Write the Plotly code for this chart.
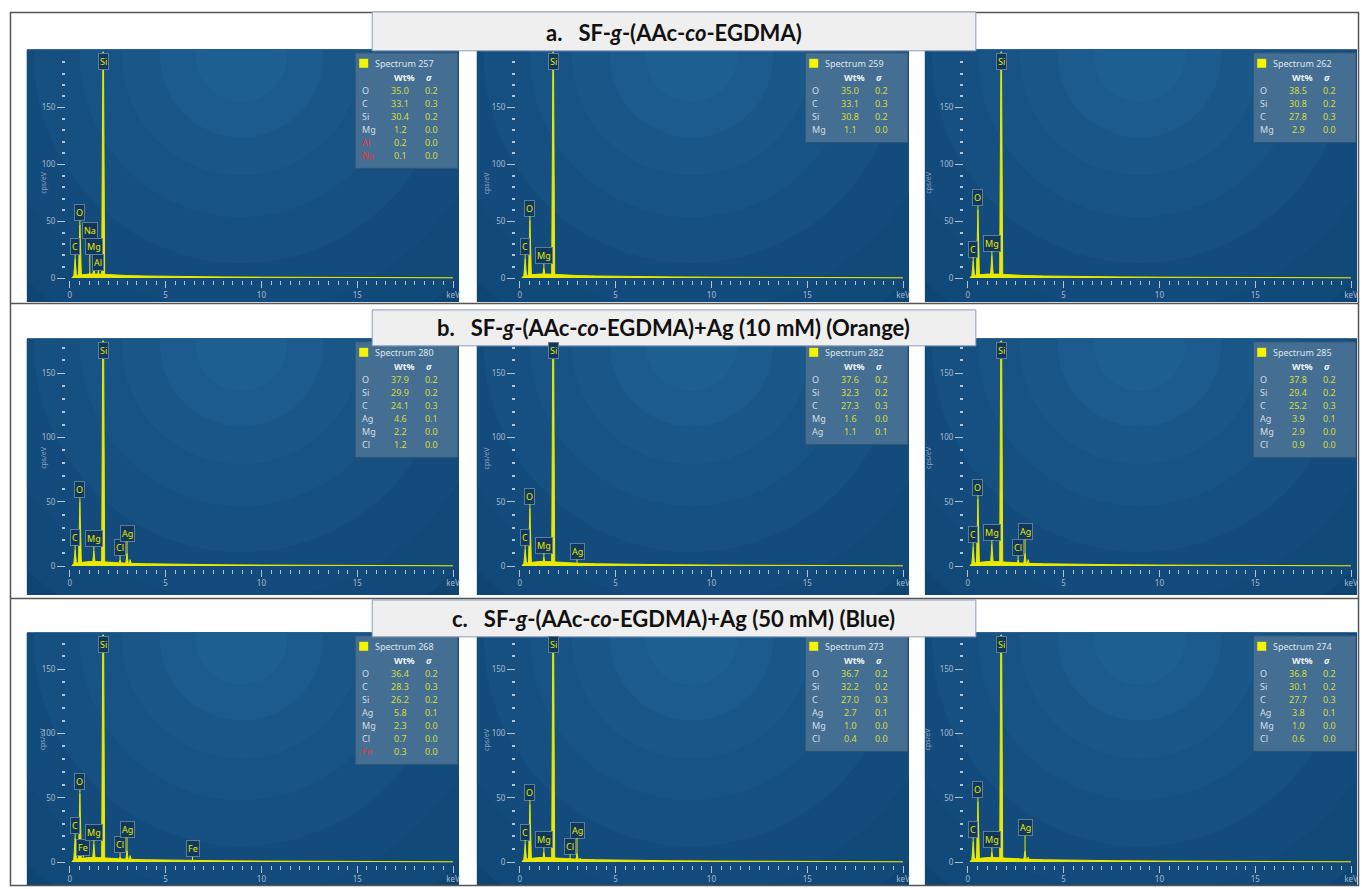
import numpy as np
import plotly.graph_objects as go

# ------------------------------------------------------------------ data
ROW_TITLES = [
    "<b>a.\u00a0\u00a0\u00a0SF-<i>g</i>-(AAc-<i>co</i>-EGDMA)</b>",
    "<b>b.\u00a0\u00a0\u00a0SF-<i>g</i>-(AAc-<i>co</i>-EGDMA)+Ag (10 mM) (Orange)</b>",
    "<b>c.\u00a0\u00a0\u00a0SF-<i>g</i>-(AAc-<i>co</i>-EGDMA)+Ag (50 mM) (Blue)</b>",
]

SPECTRUM_IDS = [257, 259, 262, 280, 282, 285, 268, 273, 274]

TABLE_ELEMENTS = [
    ["O", "C", "Si", "Mg", "Al", "Na"],
    ["O", "C", "Si", "Mg"],
    ["O", "Si", "C", "Mg"],
    ["O", "Si", "C", "Ag", "Mg", "Cl"],
    ["O", "Si", "C", "Mg", "Ag"],
    ["O", "Si", "C", "Ag", "Mg", "Cl"],
    ["O", "C", "Si", "Ag", "Mg", "Cl", "Fe"],
    ["O", "Si", "C", "Ag", "Mg", "Cl"],
    ["O", "Si", "C", "Ag", "Mg", "Cl"],
]
TABLE_WT = [
    [35.0, 33.1, 30.4, 1.2, 0.2, 0.1],
    [35.0, 33.1, 30.8, 1.1],
    [38.5, 30.8, 27.8, 2.9],
    [37.9, 29.9, 24.1, 4.6, 2.2, 1.2],
    [37.6, 32.3, 27.3, 1.6, 1.1],
    [37.8, 29.4, 25.2, 3.9, 2.9, 0.9],
    [36.4, 28.3, 26.2, 5.8, 2.3, 0.7, 0.3],
    [36.7, 32.2, 27.0, 2.7, 1.0, 0.4],
    [36.8, 30.1, 27.7, 3.8, 1.0, 0.6],
]
TABLE_SIGMA = [
    [0.2, 0.3, 0.2, 0.0, 0.0, 0.0],
    [0.2, 0.3, 0.2, 0.0],
    [0.2, 0.2, 0.3, 0.0],
    [0.2, 0.2, 0.3, 0.1, 0.0, 0.0],
    [0.2, 0.2, 0.3, 0.0, 0.1],
    [0.2, 0.2, 0.3, 0.1, 0.0, 0.0],
    [0.2, 0.3, 0.2, 0.1, 0.0, 0.0, 0.0],
    [0.2, 0.2, 0.3, 0.1, 0.0, 0.0],
    [0.2, 0.2, 0.3, 0.1, 0.0, 0.0],
]
FLAGGED = [["Al", "Na"], [], [], [], [], [], ["Fe"], [], []]

LINE_KEV = {"C": 0.277, "O": 0.525, "Fe L": 0.705, "Na": 1.041, "Mg": 1.254,
            "Al": 1.487, "Si": 1.740, "Cl": 2.622, "Ag": 2.984, "Ag Lb": 3.151,
            "Fe": 6.404}
PEAK_LINES = [
    ["C", "O", "Na", "Mg", "Al", "Si"],
    ["C", "O", "Mg", "Si"],
    ["C", "O", "Mg", "Si"],
    ["C", "O", "Mg", "Si", "Cl", "Ag", "Ag Lb"],
    ["C", "O", "Mg", "Si", "Ag", "Ag Lb"],
    ["C", "O", "Mg", "Si", "Cl", "Ag", "Ag Lb"],
    ["C", "O", "Fe L", "Mg", "Si", "Cl", "Ag", "Ag Lb", "Fe"],
    ["C", "O", "Mg", "Si", "Cl", "Ag", "Ag Lb"],
    ["C", "O", "Mg", "Si", "Cl", "Ag", "Ag Lb"],
]
PEAK_CPS = [
    [17, 47, 5, 9, 6, 240],
    [17, 51, 9, 240],
    [15, 60, 20, 240],
    [13, 50, 12, 240, 5, 10, 5],
    [13, 45, 7, 240, 2, 1],
    [15, 52, 17, 240, 5, 10, 5],
    [19, 53, 2, 14, 240, 4, 9, 5, 1],
    [14, 45, 8, 240, 3, 7, 3],
    [16, 47, 8, 240, 3, 9, 4],
]
PEAK_TAGS = [
    ["C", "O", "Na", "Mg", "Al", "Si"],
    ["C", "O", "Mg", "Si"],
    ["C", "O", "Mg", "Si"],
    ["C", "O", "Mg", "Si", "Cl", "Ag", ""],
    ["C", "O", "Mg", "Si", "Ag", ""],
    ["C", "O", "Mg", "Si", "Cl", "Ag", ""],
    ["C", "O", "Fe", "Mg", "Si", "Cl", "Ag", "", "Fe"],
    ["C", "O", "Mg", "Si", "Cl", "Ag", ""],
    ["C", "O", "Mg", "Si", "", "Ag", ""],
]
BG_KEV = [0.1, 0.2, 0.4, 0.7, 1.0, 1.5, 2.0, 2.5, 3.0, 4.0, 5.0, 6.0, 8.0,
          10.0, 12.0, 14.0, 16.0, 18.0, 20.0]
BG_CPS = [0.5, 1.5, 2.5, 3.0, 3.5, 3.5, 3.0, 2.5, 2.2, 1.8, 1.5, 1.2, 1.0,
          0.8, 0.6, 0.5, 0.4, 0.3, 0.2]

# ------------------------------------------------------------------ style / geometry
FIG_W, FIG_H = 1362, 889
PANEL_LEFT = [27, 478, 927]
PANEL_W = 433
ROWS = [dict(top=50, bottom=303, zero=279, k=1.14),
        dict(top=340, bottom=597, zero=568, k=1.29),
        dict(top=635, bottom=889, zero=865, k=1.29)]
TITLE_BOX = [(12, 51, 33), (311, 347, 329), (602, 639, 621)]
PPK = 19.2
X0_OFF = 43
XMIN, XMAX = -0.2, 20.2
YMIN = -2
PEAK_HW = 0.08
LABEL_LIFT = {(0, "Na"): 42, (0, "Mg"): 21, (0, "Al"): 9, (3, "Ag"): 20,
              (5, "Ag"): 22, (6, "Ag"): 21, (7, "Ag"): 23, (8, "Ag"): 23}
DEFAULT_LIFT = 12

YEL = "#e8e800"
BASE = "#0b3e6b"
C_OUT = np.array([11, 62, 107])
C_IN = np.array([30, 95, 146])
RING_R = [430, 370, 312, 258, 208, 162, 120, 82, 46]
RING_C = (215, 6)
TICK_COL = "#b2c3d4"
TICKFONT = dict(family="Noto Sans", size=8, color="#a7b9cb")
SMALL = "Noto Sans"


def px(x):
    return x / FIG_W


def py(y):
    return 1 - y / FIG_H


def aname(axis, n):
    return axis if n == 1 else f"{axis}{n}"


def aref(axis, n):
    return axis if n == 1 else f"{axis}{n}"


fig = go.Figure()
shapes, annotations, axes = [], [], {}

for p in range(9):
    r, c = divmod(p, 3)
    L = PANEL_LEFT[c]
    R = ROWS[r]
    top, bot, zero, k = R["top"], R["bottom"], R["zero"], R["k"]
    ymax = (zero - top - 2) / k
    nb, ns = p + 1, p + 10

    # base panel
    shapes.append(dict(type="rect", xref="paper", yref="paper", x0=px(L), x1=px(L + PANEL_W),
                       y0=py(bot), y1=py(top), fillcolor=BASE, line_width=0, layer="below"))
    # background subplot (pixel units) for the radial gradient rings
    axes[aname("xaxis", nb)] = dict(domain=[px(L), px(L + PANEL_W)], range=[0, PANEL_W],
                                    visible=False, anchor=aref("y", nb), fixedrange=True)
    axes[aname("yaxis", nb)] = dict(domain=[py(bot), py(top)], range=[bot - top, 0],
                                    autorange=False, visible=False, anchor=aref("x", nb),
                                    fixedrange=True)
    fig.add_trace(go.Scatter(x=[None], y=[None], xaxis=aref("x", nb), yaxis=aref("y", nb),
                             showlegend=False, hoverinfo="skip"))
    for j, rad in enumerate(RING_R):
        t = (j + 1) / len(RING_R)
        col = C_OUT + (C_IN - C_OUT) * t
        shapes.append(dict(type="circle", xref=aref("x", nb), yref=aref("y", nb),
                           x0=RING_C[0] - rad, x1=RING_C[0] + rad,
                           y0=RING_C[1] - rad, y1=RING_C[1] + rad,
                           fillcolor="rgb(%d,%d,%d)" % tuple(col.astype(int)),
                           line_width=0, layer="below"))

    # spectrum subplot
    axes[aname("xaxis", ns)] = dict(
        domain=[px(L + X0_OFF + XMIN * PPK), px(L + X0_OFF + XMAX * PPK)],
        range=[XMIN, XMAX], anchor=aref("y", ns), showgrid=False, zeroline=False,
        showline=False, ticks="outside", tickmode="linear", tick0=0, dtick=5,
        ticklen=7, tickwidth=1.2, tickcolor=TICK_COL, tickfont=TICKFONT,
        labelalias={20: "keV"},
        minor=dict(ticks="outside", tickmode="linear", tick0=0, dtick=0.5, ticklen=4,
                   tickwidth=1.2, tickcolor=TICK_COL),
        fixedrange=True)
    axes[aname("yaxis", ns)] = dict(
        domain=[py(zero - YMIN * k), py(top + 2)], range=[YMIN, ymax],
        anchor=aref("x", ns), showgrid=False, zeroline=False, showline=False,
        ticks="outside", tickmode="linear", tick0=0, dtick=50, ticklen=8,
        tickwidth=1.2, tickcolor=TICK_COL, tickfont=TICKFONT,
        minor=dict(ticks="outside", tickmode="linear", tick0=0, dtick=10, ticklen=3,
                   tickwidth=1.5, tickcolor=TICK_COL),
        fixedrange=True)

    # background continuum
    fig.add_trace(go.Scatter(x=BG_KEV, y=BG_CPS, mode="lines", fill="tozeroy",
                             fillcolor=YEL, line=dict(color=YEL, width=1),
                             xaxis=aref("x", ns), yaxis=aref("y", ns),
                             showlegend=False, hoverinfo="skip"))
    # peaks
    xs, ys = [], []
    for line, h in zip(PEAK_LINES[p], PEAK_CPS[p]):
        e = LINE_KEV[line]
        xs += [e - PEAK_HW, e, e + PEAK_HW, None]
        ys += [0, h, 0, None]
    fig.add_trace(go.Scatter(x=xs, y=ys, mode="lines", fill="toself", fillcolor=YEL,
                             line=dict(color=YEL, width=1), xaxis=aref("x", ns),
                             yaxis=aref("y", ns), showlegend=False, hoverinfo="skip"))

    # peak labels
    lab = dict(font=dict(family=SMALL, size=9, color=YEL), bgcolor="#10385a",
               bordercolor="#5f7d97", borderwidth=1, borderpad=1)
    for line, h, tag in zip(PEAK_LINES[p], PEAK_CPS[p], PEAK_TAGS[p]):
        if not tag:
            continue
        e = LINE_KEV[line]
        if line == "Si":
            annotations.append(dict(x=e, y=ymax, xref=aref("x", ns), yref=aref("y", ns),
                                    text=tag, showarrow=False, yanchor="top", yshift=-1, **lab))
        else:
            lift = LABEL_LIFT.get((p, line), DEFAULT_LIFT)
            annotations.append(dict(x=e, y=h, xref=aref("x", ns), yref=aref("y", ns),
                                    text=tag, showarrow=True, arrowhead=0, arrowwidth=1,
                                    arrowcolor=YEL, ax=0, ay=-lift, standoff=0, **lab))

    # y axis title
    annotations.append(dict(x=px(L + 10), y=py((top + zero) / 2 + 5), xref="paper",
                            yref="paper", text="cps/eV", textangle=-90, showarrow=False,
                            font=dict(family=SMALL, size=7, color="#8aa2b9")))

    # results table
    n = len(TABLE_ELEMENTS[p])
    bl, bt = L + 329, top + 3
    shapes.append(dict(type="rect", xref="paper", yref="paper", x0=px(bl), x1=px(bl + 103),
                       y0=py(bt + 38 + 13 * n), y1=py(bt), fillcolor="#446f92",
                       line=dict(color="#2d5576", width=1), layer="above"))
    shapes.append(dict(type="rect", xref="paper", yref="paper", x0=px(bl + 4), x1=px(bl + 13),
                       y0=py(bt + 15), y1=py(bt + 6), fillcolor="#f5f500", line_width=0,
                       layer="above"))
    annotations.append(dict(x=px(bl + 18), y=py(bt + 11), xref="paper", yref="paper",
                            text=f"Spectrum {SPECTRUM_IDS[p]}", showarrow=False,
                            xanchor="left", yanchor="middle",
                            font=dict(family=SMALL, size=9, color="#dde6ee")))
    annotations.append(dict(x=px(bl + 49), y=py(bt + 25), xref="paper", yref="paper",
                            text="<b>Wt%</b>", showarrow=False, xanchor="center",
                            yanchor="middle", font=dict(family=SMALL, size=9, color="#eef2f6")))
    annotations.append(dict(x=px(bl + 74), y=py(bt + 25), xref="paper", yref="paper",
                            text="<b><i>σ</i></b>", showarrow=False, xanchor="center",
                            yanchor="middle", font=dict(family=SMALL, size=9, color="#eef2f6")))
    for j, (el, wt, sg) in enumerate(zip(TABLE_ELEMENTS[p], TABLE_WT[p], TABLE_SIGMA[p])):
        yy = py(bt + 38 + 13 * j)
        ecol = "#e8303c" if el in FLAGGED[p] else "#d5dde5"
        annotations.append(dict(x=px(bl + 5), y=yy, xref="paper", yref="paper", text=el,
                                showarrow=False, xanchor="left", yanchor="middle",
                                font=dict(family=SMALL, size=9, color=ecol)))
        annotations.append(dict(x=px(bl + 45), y=yy, xref="paper", yref="paper",
                                text=f"{wt:.1f}", showarrow=False, xanchor="center",
                                yanchor="middle", font=dict(family=SMALL, size=9, color="#d4dc3c")))
        annotations.append(dict(x=px(bl + 76), y=yy, xref="paper", yref="paper",
                                text=f"{sg:.1f}", showarrow=False, xanchor="center",
                                yanchor="middle", font=dict(family=SMALL, size=9, color="#d4dc3c")))

# frame and separators
FRAME = "#555555"
shapes.append(dict(type="rect", xref="paper", yref="paper", x0=px(10.5), x1=px(1361.5),
                   y0=py(888.5), y1=py(12.5), line=dict(color=FRAME, width=1.5),
                   fillcolor="rgba(0,0,0,0)", layer="above"))
for ysep in (304.5, 600.5):
    shapes.append(dict(type="line", xref="paper", yref="paper", x0=px(10.5), x1=px(1362),
                       y0=py(ysep), y1=py(ysep), line=dict(color=FRAME, width=1.5),
                       layer="above"))

# row title boxes
for (y0, y1, yc), title in zip(TITLE_BOX, ROW_TITLES):
    shapes.append(dict(type="rect", xref="paper", yref="paper", x0=px(373), x1=px(978),
                       y0=py(y1), y1=py(y0), fillcolor="#efefef",
                       line=dict(color="#8c9bbd", width=1), layer="above"))
    annotations.append(dict(x=px(675), y=py(yc), xref="paper", yref="paper", text=title,
                            showarrow=False, xanchor="center", yanchor="middle",
                            font=dict(family="Lato", size=22, color="#111111")))

fig.update_layout(width=FIG_W, height=FIG_H, autosize=False,
                  margin=dict(l=0, r=0, t=0, b=0),
                  paper_bgcolor="white", plot_bgcolor="rgba(0,0,0,0)",
                  showlegend=False, shapes=shapes, annotations=annotations, **axes)

fig.write_html("out.html", config={"displayModeBar": False},
               post_script="document.body.style.margin='0';document.body.style.padding='0';"
                           "document.body.style.overflow='hidden';")
